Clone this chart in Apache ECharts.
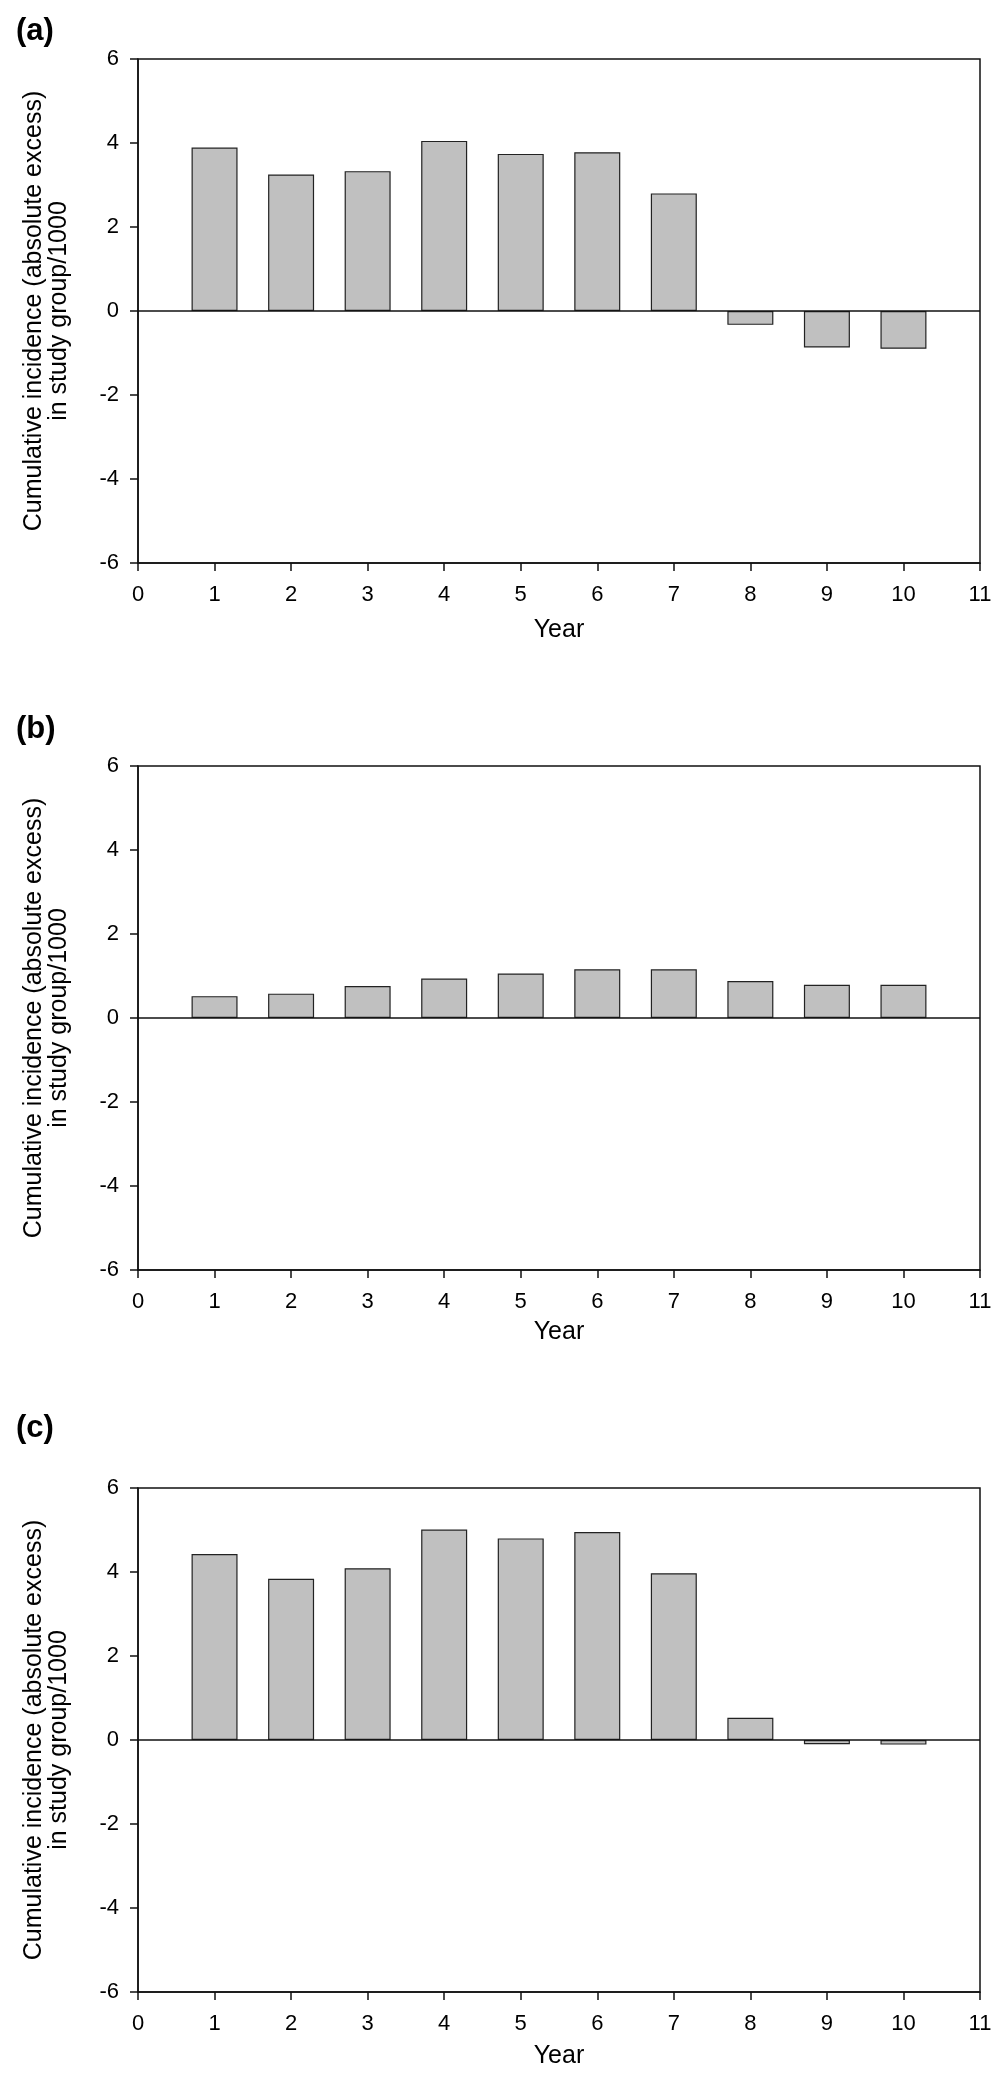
<!DOCTYPE html>
<html>
<head>
<meta charset="utf-8">
<script src="https://cdn.jsdelivr.net/npm/echarts@6/dist/echarts.min.js"></script>
<style>
  html, body { margin: 0; padding: 0; background: #fff; }
  #chart { width: 1004px; height: 2082px; }
</style>
</head>
<body>
<div id="chart"></div>
<script>
// ---- data ----
const years = [1, 2, 3, 4, 5, 6, 7, 8, 9, 10];
const panelA = [3.89, 3.25, 3.33, 4.05, 3.74, 3.78, 2.80, -0.33, -0.87, -0.90];
const panelB = [0.52, 0.58, 0.76, 0.94, 1.06, 1.16, 1.16, 0.88, 0.79, 0.79];
const panelC = [4.43, 3.84, 4.09, 5.01, 4.80, 4.95, 3.97, 0.53, -0.10, -0.11];
const panelLabels = ['(a)', '(b)', '(c)'];
const xMin = 0, xMax = 11, xStep = 1;
const yMin = -6, yMax = 6, yStep = 2;
const yTitle = 'Cumulative incidence (absolute excess)\nin study group/1000';
const xTitle = 'Year';

// ---- layout ----
const FONT = '"Liberation Sans", Arial, sans-serif';
const gridTops = [59, 766, 1488];
const labelCenters = [31, 729, 1428];
const yearGaps = [55, 50, 52];
const panels = [panelA, panelB, panelC];
const axisColor = '#111';

const chart = echarts.init(document.getElementById('chart'), null, { renderer: 'canvas' });

const grids = [], xAxes = [], yAxes = [], series = [], graphics = [];
panels.forEach((vals, i) => {
  grids.push({
    left: 138, right: 24, top: gridTops[i], height: 504,
    show: true, borderColor: axisColor, borderWidth: 1.5, backgroundColor: 'transparent'
  });
  xAxes.push({
    gridIndex: i, type: 'value', min: xMin, max: xMax, interval: xStep,
    position: 'bottom',
    axisLine: { show: true, onZero: false, lineStyle: { color: axisColor, width: 1.5 } },
    axisTick: { show: true, inside: false, length: 8, lineStyle: { color: axisColor, width: 1.5 } },
    axisLabel: { show: true, margin: 21, color: '#000', fontFamily: FONT, fontSize: 22 },
    splitLine: { show: false },
    name: xTitle, nameLocation: 'middle', nameGap: yearGaps[i],
    nameTextStyle: { color: '#000', fontFamily: FONT, fontSize: 25 }
  });
  yAxes.push({
    gridIndex: i, type: 'value', min: yMin, max: yMax, interval: yStep,
    axisLine: { show: true, onZero: false, lineStyle: { color: axisColor, width: 1.5 } },
    axisTick: { show: true, inside: false, length: 8, lineStyle: { color: axisColor, width: 1.5 } },
    axisLabel: { show: true, margin: 19, color: '#000', fontFamily: FONT, fontSize: 22 },
    splitLine: { show: false },
    name: yTitle, nameLocation: 'middle', nameGap: 66, nameRotate: 90,
    nameTextStyle: { color: '#000', fontFamily: FONT, fontSize: 25, lineHeight: 25, align: 'center' }
  });
  series.push({
    type: 'bar', xAxisIndex: i, yAxisIndex: i,
    data: years.map((y, k) => [y, vals[k]]),
    barWidth: 46,
    itemStyle: { color: '#c0c0c0', borderColor: '#222', borderWidth: 1.2 },
    silent: true,
    markLine: {
      silent: true, symbol: ['none', 'none'],
      label: { show: false },
      lineStyle: { color: axisColor, width: 1.5, type: 'solid' },
      data: [{ yAxis: 0 }],
      animation: false
    }
  });
  graphics.push({
    type: 'text', x: 16, y: labelCenters[i],
    style: { text: panelLabels[i], font: 'bold 31px ' + FONT, fill: '#000', textVerticalAlign: 'middle', verticalAlign: 'middle' }
  });
});

chart.setOption({
  animation: false,
  backgroundColor: '#fff',
  grid: grids,
  xAxis: xAxes,
  yAxis: yAxes,
  series: series,
  graphic: graphics
});
</script>
</body>
</html>
